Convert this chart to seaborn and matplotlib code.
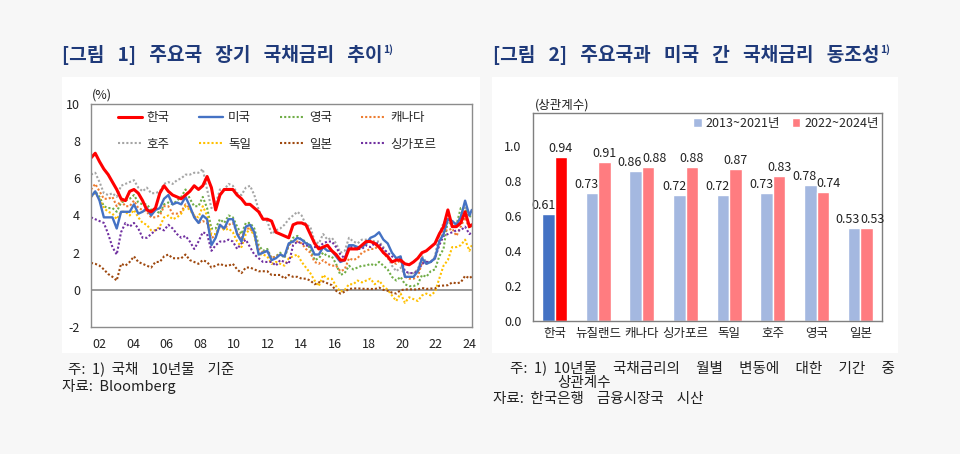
import matplotlib
matplotlib.use("Agg")
import matplotlib.pyplot as plt
from matplotlib.lines import Line2D
from matplotlib.patches import Patch, Rectangle
import seaborn as sns
import pandas as pd

sns.set_theme(style="white")
plt.rcParams["font.family"] = ["Noto Sans CJK KR", "DejaVu Sans"]
plt.rcParams["axes.unicode_minus"] = False

# ---- [그림 1] 국채 10년물 금리 (분기초 값, %) ----
dates = list(pd.date_range("2002-01-01", "2024-01-01", freq="QS")) + [pd.Timestamp("2024-02-20")]

kr = [7.1, 7.35, 6.9, 6.5, 6.2, 5.8, 5.4, 4.9, 4.8, 5.3,
      5.4, 5.2, 4.8, 4.3, 4.2, 4.4, 5.2, 5.6, 5.3, 5.1,
      5.0, 4.9, 5.1, 5.3, 5.6, 5.4, 5.6, 6.1, 5.5, 4.3,
      5.1, 5.4, 5.4, 5.4, 5.1, 4.9, 4.6, 4.6, 4.4, 4.2,
      3.8, 3.8, 3.7, 3.1, 3.0, 2.9, 2.8, 3.5, 3.6, 3.6,
      3.5, 3.0, 2.5, 2.2, 2.3, 2.4, 2.1, 1.9, 1.6, 1.6,
      2.2, 2.2, 2.2, 2.4, 2.6, 2.6, 2.5, 2.3, 2.0, 1.8,
      1.5, 1.6, 1.6, 1.4, 1.35, 1.5, 1.7, 2.0, 2.1, 2.3,
      2.5, 3.0, 3.4, 4.3, 3.4, 3.4, 3.6, 4.2, 3.4, 3.5]
us = [5.0, 5.3, 4.8, 3.9, 3.9, 3.9, 3.3, 4.2, 4.2, 4.2,
      4.6, 4.1, 4.2, 4.4, 4.0, 4.3, 4.4, 4.9, 5.1, 4.6,
      4.7, 4.6, 5.0, 4.5, 3.9, 3.6, 4.0, 3.8, 2.4, 2.8,
      3.5, 3.3, 3.8, 3.8, 3.0, 2.6, 3.4, 3.5, 3.1, 1.9,
      2.0, 2.1, 1.6, 1.7, 1.9, 1.8, 2.5, 2.6, 2.8, 2.7,
      2.5, 2.4, 1.9, 1.9, 2.3, 2.1, 2.1, 1.8, 1.5, 1.6,
      2.4, 2.4, 2.3, 2.3, 2.5, 2.8, 2.9, 3.1, 2.7, 2.5,
      2.0, 1.7, 1.8, 0.7, 0.7, 0.7, 1.0, 1.7, 1.4, 1.5,
      1.7, 2.6, 3.0, 3.8, 3.7, 3.5, 3.9, 4.8, 4.0, 4.3]
uk = [5.0, 5.3, 5.0, 4.5, 4.4, 4.4, 4.2, 4.7, 4.8, 4.9,
      5.1, 4.7, 4.6, 4.6, 4.3, 4.3, 4.1, 4.6, 4.7, 4.6,
      4.8, 5.0, 5.4, 4.9, 4.5, 4.5, 5.0, 4.4, 3.3, 3.3,
      3.8, 3.6, 4.0, 3.9, 3.4, 3.0, 3.6, 3.6, 3.3, 2.4,
      2.1, 2.2, 1.7, 1.8, 2.0, 1.7, 2.4, 2.8, 2.9, 2.7,
      2.6, 2.2, 1.6, 1.7, 2.0, 1.8, 1.8, 1.4, 0.8, 0.9,
      1.3, 1.1, 1.2, 1.3, 1.3, 1.4, 1.3, 1.5, 1.3, 1.1,
      0.7, 0.5, 0.7, 0.3, 0.2, 0.2, 0.3, 0.8, 0.7, 1.0,
      1.1, 1.8, 2.2, 3.8, 3.4, 3.5, 4.4, 4.4, 3.9, 4.1]
ca = [5.4, 5.7, 5.3, 4.9, 4.9, 5.0, 4.5, 4.8, 4.5, 4.5,
      4.8, 4.4, 4.3, 4.2, 3.9, 3.9, 4.0, 4.5, 4.5, 4.1,
      4.1, 4.2, 4.6, 4.4, 4.0, 3.6, 3.7, 3.6, 2.8, 2.9,
      3.4, 3.3, 3.5, 3.6, 3.1, 2.8, 3.3, 3.3, 3.0, 2.2,
      2.0, 2.1, 1.7, 1.8, 1.9, 1.8, 2.4, 2.6, 2.6, 2.5,
      2.2, 2.0, 1.5, 1.4, 1.6, 1.4, 1.3, 1.3, 1.0, 1.1,
      1.7, 1.6, 1.7, 2.0, 2.1, 2.2, 2.2, 2.4, 2.0, 1.7,
      1.5, 1.4, 1.6, 0.7, 0.6, 0.6, 0.7, 1.5, 1.4, 1.5,
      1.7, 2.5, 3.2, 3.2, 3.3, 2.9, 3.4, 3.9, 3.3, 3.5]
au = [6.2, 6.3, 5.8, 5.2, 5.1, 5.2, 5.0, 5.6, 5.7, 5.8,
      5.9, 5.5, 5.3, 5.5, 5.2, 5.2, 5.3, 5.7, 5.8, 5.7,
      5.9, 6.0, 6.2, 6.2, 6.3, 6.3, 6.5, 5.4, 4.4, 4.6,
      5.4, 5.4, 5.7, 5.6, 5.2, 5.1, 5.5, 5.6, 5.1, 4.3,
      3.8, 3.7, 3.0, 3.2, 3.3, 3.5, 3.8, 4.0, 4.2, 4.0,
      3.5, 3.4, 2.6, 2.5, 3.0, 2.7, 2.8, 2.5, 2.0, 2.1,
      2.8, 2.6, 2.5, 2.7, 2.7, 2.7, 2.6, 2.6, 2.3, 1.8,
      1.3, 1.0, 1.2, 0.8, 0.9, 0.9, 1.1, 1.8, 1.5, 1.5,
      1.8, 3.0, 3.6, 3.8, 3.7, 3.5, 4.0, 4.5, 4.0, 4.2]
de = [5.0, 5.2, 4.9, 4.4, 4.2, 4.1, 3.8, 4.2, 4.2, 4.0,
      4.3, 3.9, 3.6, 3.5, 3.2, 3.2, 3.4, 3.9, 4.0, 3.8,
      3.9, 4.1, 4.5, 4.3, 4.0, 3.9, 4.5, 4.0, 3.0, 3.0,
      3.5, 3.2, 3.3, 3.1, 2.6, 2.3, 3.0, 3.3, 2.9, 1.9,
      1.9, 1.8, 1.4, 1.5, 1.4, 1.3, 1.7, 1.8, 1.9, 1.5,
      1.2, 0.9, 0.5, 0.2, 0.8, 0.6, 0.6, 0.2, -0.1, 0.0,
      0.3, 0.3, 0.5, 0.4, 0.5, 0.6, 0.3, 0.5, 0.2, 0.0,
      -0.3, -0.6, -0.2, -0.7, -0.4, -0.5, -0.6, -0.3, -0.2, -0.3,
      -0.1, 0.6, 1.3, 1.6, 2.3, 2.3, 2.4, 2.7, 2.1, 2.4]
jp = [1.45, 1.4, 1.3, 1.1, 0.85, 0.7, 0.5, 1.4, 1.3, 1.5,
      1.8, 1.5, 1.4, 1.3, 1.2, 1.5, 1.5, 1.8, 1.9, 1.7,
      1.7, 1.7, 1.9, 1.6, 1.5, 1.4, 1.6, 1.5, 1.2, 1.3,
      1.4, 1.3, 1.3, 1.4, 1.1, 0.9, 1.2, 1.2, 1.1, 1.0,
      1.0, 1.0, 0.8, 0.8, 0.8, 0.6, 0.8, 0.7, 0.7, 0.6,
      0.6, 0.5, 0.3, 0.4, 0.45, 0.35, 0.25, -0.05, -0.2, -0.1,
      0.05, 0.07, 0.08, 0.06, 0.05, 0.05, 0.04, 0.12, 0.0, -0.05,
      -0.15, -0.2, -0.02, 0.02, 0.03, 0.02, 0.02, 0.1, 0.05, 0.07,
      0.07, 0.22, 0.23, 0.25, 0.4, 0.35, 0.4, 0.75, 0.62, 0.72]
sg = [3.9, 3.8, 3.7, 3.6, 3.0, 2.3, 1.9, 3.1, 3.6, 3.4,
      3.6, 3.3, 2.8, 2.8, 3.0, 3.2, 3.3, 3.2, 3.5, 3.3,
      3.0, 2.8, 2.9, 2.6, 2.2, 2.6, 3.1, 3.0, 2.1, 2.4,
      2.6, 2.6, 2.7, 2.6, 2.2, 2.5, 2.7, 2.3, 1.9, 1.7,
      1.5, 1.5, 1.5, 1.3, 1.6, 1.5, 1.4, 2.4, 2.6, 2.5,
      2.4, 2.3, 2.3, 2.3, 2.5, 2.6, 2.6, 2.3, 1.9, 1.7,
      2.3, 2.3, 2.2, 2.2, 2.4, 2.3, 2.5, 2.5, 2.2, 2.0,
      1.8, 1.7, 1.7, 1.0, 0.9, 0.9, 1.0, 1.4, 1.5, 1.5,
      1.7, 2.4, 2.9, 3.0, 3.1, 3.2, 3.2, 3.4, 3.0, 3.1]

year_labels = ["02", "04", "06", "08", "10", "12", "14", "16", "18", "20", "22", "24"]

# ---- [그림 2] 미국과의 상관계수 ----
countries = ["한국", "뉴질랜드", "캐나다", "싱가포르", "독일", "호주", "영국", "일본"]
corr_1321 = [0.61, 0.73, 0.86, 0.72, 0.72, 0.73, 0.78, 0.53]
corr_2224 = [0.94, 0.91, 0.88, 0.88, 0.87, 0.83, 0.74, 0.53]
periods = ["2013~2021년", "2022~2024년"]

W, H = 960, 454
fig = plt.figure(figsize=(W / 100, H / 100), dpi=100, facecolor="#f7f7f7")


def fx(px):
    return px / W


def fy(py):
    return 1 - py / H


# 흰 패널 배경
for x0, x1 in [(62, 480), (492, 898)]:
    fig.add_artist(Rectangle((fx(x0), fy(353)), fx(x1 - x0), (353 - 77) / H,
                             transform=fig.transFigure, facecolor="white",
                             edgecolor="none", zorder=0))

navy = "#1f3a7a"
ink = "#222222"

# ---------------- 그림 1 ----------------
ax1 = fig.add_axes([fx(91), fy(327), fx(381), 223 / H])
t = [d.year + (d.dayofyear - 1) / 365.25 for d in dates]

dot = (0, (1, 1))
series = [
    ("영국", uk, "#70ad47", 1.5, dot),
    ("캐나다", ca, "#ed7d31", 1.5, dot),
    ("호주", au, "#a5a5a5", 1.5, dot),
    ("독일", de, "#ffc000", 1.5, dot),
    ("일본", jp, "#9e480e", 1.5, dot),
    ("싱가포르", sg, "#7030a0", 1.5, dot),
    ("미국", us, "#4472c4", 1.7, "-"),
    ("한국", kr, "#ff0000", 2.2, "-"),
]
style = {}
for name, vals, col, lw, ls in series:
    sns.lineplot(x=t, y=vals, ax=ax1, color=col, linewidth=lw, linestyle=ls, sort=False)
    style[name] = (col, lw, ls)

ax1.axhline(0, color="#808080", lw=1.1, zorder=0.5)
xa, xb = 2002.0, 2024.15
ax1.set_xlim(xa, xb)
ax1.set_ylim(-2, 10)
ax1.set_yticks(range(-2, 11, 2))
ax1.set_xticks([xa + (25 + 100.9 * k) / 1142 * (xb - xa) for k in range(12)])
ax1.set_xticklabels(year_labels)
ax1.tick_params(axis="both", length=0, labelsize=9, colors=ink)
ax1.tick_params(axis="y", pad=8)
ax1.tick_params(axis="x", pad=8)
for s in ax1.spines.values():
    s.set_color("#8c8c8c")
    s.set_linewidth(1)

order = ["한국", "호주", "미국", "독일", "영국", "일본", "캐나다", "싱가포르"]
handles = [Line2D([], [], color=style[n][0], lw=style[n][1], ls=style[n][2]) for n in order]
ax1.legend(handles, order, ncol=4, loc="upper left", bbox_to_anchor=(0.071, 0.968),
           frameon=False, fontsize=9, handlelength=1.9, handletextpad=0.4,
           columnspacing=2.35, labelspacing=1.07, borderpad=0, borderaxespad=0)
fig.text(fx(92), fy(95), "(%)", fontsize=9, va="center", color=ink)

# ---------------- 그림 2 ----------------
ax2 = fig.add_axes([fx(532.7), fy(321), fx(349.3), 208 / H])
df2 = pd.DataFrame({
    "국가": countries * 2,
    "상관계수": corr_1321 + corr_2224,
    "기간": [periods[0]] * len(countries) + [periods[1]] * len(countries),
})
sns.barplot(data=df2, x="국가", y="상관계수", hue="기간", palette=["#a4b8e0", "#ff7c80"],
            width=0.57, saturation=1, legend=False, ax=ax2, zorder=2)
ax2.containers[0][0].set_facecolor("#4472c4")
ax2.containers[1][0].set_facecolor("#ff0000")

for k, cont in enumerate(ax2.containers):
    for i, bar in enumerate(cont):
        h = bar.get_height()
        cx = bar.get_x() + bar.get_width() / 2
        close = abs(corr_1321[i] - corr_2224[i]) < 0.06
        if k == 0:
            dx = -6 if close else -5
        else:
            dx = 6 if close else 0
        ax2.annotate(f"{h:.2f}", (cx, h), xytext=(dx, 2), textcoords="offset pixels",
                     ha="center", va="bottom", fontsize=9, color=ink,
                     zorder=1 if k == 0 else 3)

ax2.set_ylim(0, 1.19)
ax2.set_yticks([0, 0.2, 0.4, 0.6, 0.8, 1.0])
ax2.set_yticklabels(["0.0", "0.2", "0.4", "0.6", "0.8", "1.0"])
ax2.set_xlabel("")
ax2.set_ylabel("")
ax2.tick_params(axis="both", length=0, colors=ink)
ax2.tick_params(axis="y", labelsize=9, pad=8)
ax2.tick_params(axis="x", labelsize=9, pad=4)
for s in ax2.spines.values():
    s.set_color("#7f7f7f")
    s.set_linewidth(1)

leg_h = [Patch(facecolor="#a4b8e0"), Patch(facecolor="#ff7c80")]
ax2.legend(leg_h, periods, ncol=2, loc="upper right", bbox_to_anchor=(0.99, 0.98),
           frameon=False, fontsize=9, handlelength=0.7, handleheight=0.7,
           handletextpad=0.3, columnspacing=0.9, borderpad=0, borderaxespad=0)
fig.text(fx(535), fy(105), "(상관계수)", fontsize=9, va="center", color=ink)

# ---------------- 제목, 주석 ----------------
titles = [(62, "[그림   1]   주요국   장기   국채금리   추이"),
          (493, "[그림   2]   주요국과   미국   간   국채금리   동조성")]
fig.canvas.draw()
renderer = fig.canvas.get_renderer()
for x0, txt in titles:
    tt = fig.text(fx(x0), fy(55), txt, fontsize=13.8, weight="bold", color=navy, va="center")
    bb = tt.get_window_extent(renderer)
    fig.text(bb.x1 / W + 0.001, fy(50), "1)", fontsize=7.5, weight="bold",
             color=navy, va="center")

note_kw = dict(fontsize=10.5, va="center", color=ink)
fig.text(fx(68), fy(369), "주:  1)  국채    10년물    기준", **note_kw)
fig.text(fx(62), fy(387), "자료:  Bloomberg", **note_kw)
fig.text(fx(510), fy(368), "주:  1)  10년물     국채금리의     월별     변동에     대한     기간     중", **note_kw)
fig.text(fx(557), fy(383), "상관계수", **note_kw)
fig.text(fx(493), fy(399), "자료:  한국은행    금융시장국    시산", **note_kw)

fig.savefig("out.png", dpi=100, facecolor=fig.get_facecolor())
